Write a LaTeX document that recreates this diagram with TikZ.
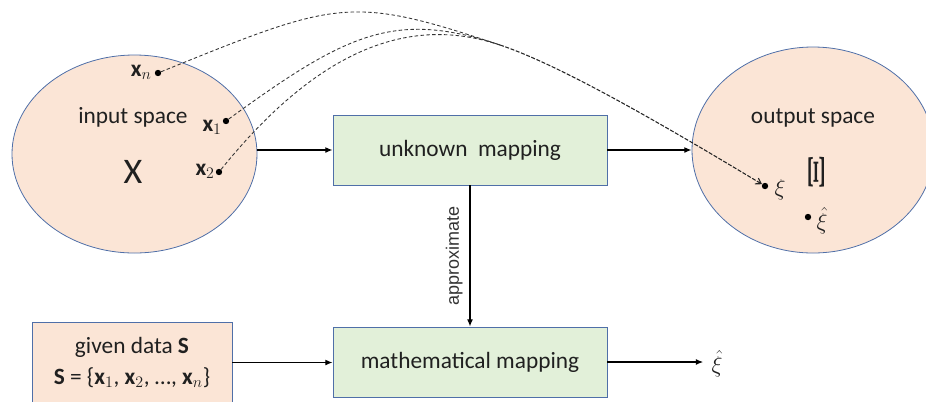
\documentclass[tikz,border=0pt]{standalone}
\usepackage[no-math]{fontspec}
\usepackage{graphicx}
\setmainfont{Carlito}
\newfontfamily\notesans{Liberation Sans}
\usetikzlibrary{shapes.geometric,arrows.meta}

\definecolor{peach}{HTML}{FBE5D6}
\definecolor{mint}{HTML}{E2F0D9}
\definecolor{edgeblue}{HTML}{4F6FA8}
\definecolor{ink}{HTML}{202020}

\begin{document}
\begin{tikzpicture}[
  x=0.75pt, y=-0.75pt,
  every node/.style={text=ink},
  spacenode/.style={ellipse, draw=edgeblue, line width=0.6pt, fill=peach, inner sep=0pt},
  procbox/.style={rectangle, draw=edgeblue, line width=0.6pt, fill=mint,
    minimum width=205.5pt, minimum height=52.5pt, inner sep=0pt,
    font=\fontsize{17.5}{21}\selectfont},
  databox/.style={rectangle, draw=edgeblue, line width=0.6pt, fill=peach,
    minimum width=150pt, minimum height=60.75pt, inner sep=0pt, align=center,
    font=\fontsize{17.5}{23}\selectfont},
  txt/.style={inner sep=0pt, font=\fontsize{17.5}{21}\selectfont},
  pt/.style={circle, fill=black, inner sep=0pt, minimum size=4.8pt},
  flow/.style={-{Latex[length=5.5pt,width=4.5pt]}, line width=1pt, draw=black},
  guess/.style={line width=0.65pt, draw=black!80, dash pattern=on 2.6pt off 1.8pt},
  guesstip/.style={-{Straight Barb[length=4pt,width=5pt]}, line width=0.8pt,
    draw=black!85, dash pattern=on 3pt off 1.2pt}
]
\useasboundingbox (0,0) rectangle (926,401);

% input and output spaces
\node[spacenode, minimum width=183.75pt, minimum height=148.5pt] (inspace) at (134.5,154) {};
\node[spacenode, minimum width=181.5pt, minimum height=154.5pt] (outspace) at (813,150) {};

\node[txt, anchor=base] (inlabel) at (133,123) {input space};
\node[txt, font=\fontsize{27}{30}\selectfont] (bigX) at (133,172) {X};
\node[txt, anchor=base] (outlabel) at (813,123) {output space};

% sample points in the input space
\node[pt] (pn) at (158,73) {};
\node[pt] (p1) at (226,121) {};
\node[pt] (p2) at (219,172) {};
\node[txt, anchor=base east] (ln) at (152,76.5) {\textbf{x}$_n$};
\node[txt, anchor=base east] (l1) at (222,131.5) {\textbf{x}$_1$};
\node[txt, anchor=base east] (l2) at (215,175.5) {\textbf{x}$_2$};

% points in the output space
\node[pt] (pxi) at (765,186) {};
\node[txt] (lxi) at (780,190) {$\xi$};
\node[txt, rotate=90] (bigXi) at (817,172) {\scalebox{2}[1]{\fontsize{17.5}{20}\selectfont$\mathbf{\Xi}$}};
\node[pt] (phat) at (808,217) {};
\node[txt] (lhat) at (822,221) {$\hat{\xi}$};

% mapping boxes
\node[procbox] (unknown) at (470,150) {unknown\hspace{0.45em}mapping};
\node[procbox] (math) at (470,362) {mathematical mapping};
\node[databox] (given) at (132,362.5) {given data \textbf{S}\\\textbf{S} = \{\textbf{x}$_1$, \textbf{x}$_2$, \ldots, \textbf{x}$_n$\}};
\node[txt] (hatout) at (717,364) {$\hat{\xi}$};

% solid connectors
\draw[flow] (inspace.east |- unknown.west) -- (unknown.west);
\draw[flow] (unknown.east) -- (outspace.west);
\draw[flow] (unknown.south) -- node[midway, rotate=90, anchor=south, inner sep=0pt, yshift=5pt,
  text=black!80, font=\notesans\fontsize{13.5}{16}\selectfont] (approx) {approximate} (math.north);
\draw[flow] (given.east) -- (given.east -| math.west);
\draw[flow, shorten >=6pt] (math.east) -- (math.east -| hatout.west);

% dashed correspondences: three branches join, then one shared run to the image point
\coordinate (merge) at (500,45);
\draw[guess] (pn) .. controls (338,0) and (350,-5) .. (merge);
\draw[guess] (p1) .. controls (347,33) and (395,10) .. (merge);
\draw[guess] (p2) .. controls (332,32) and (425,20) .. (merge);
\draw[guesstip] (merge) .. controls (560,65) and (662,124) .. (pxi);
\end{tikzpicture}
\end{document}
